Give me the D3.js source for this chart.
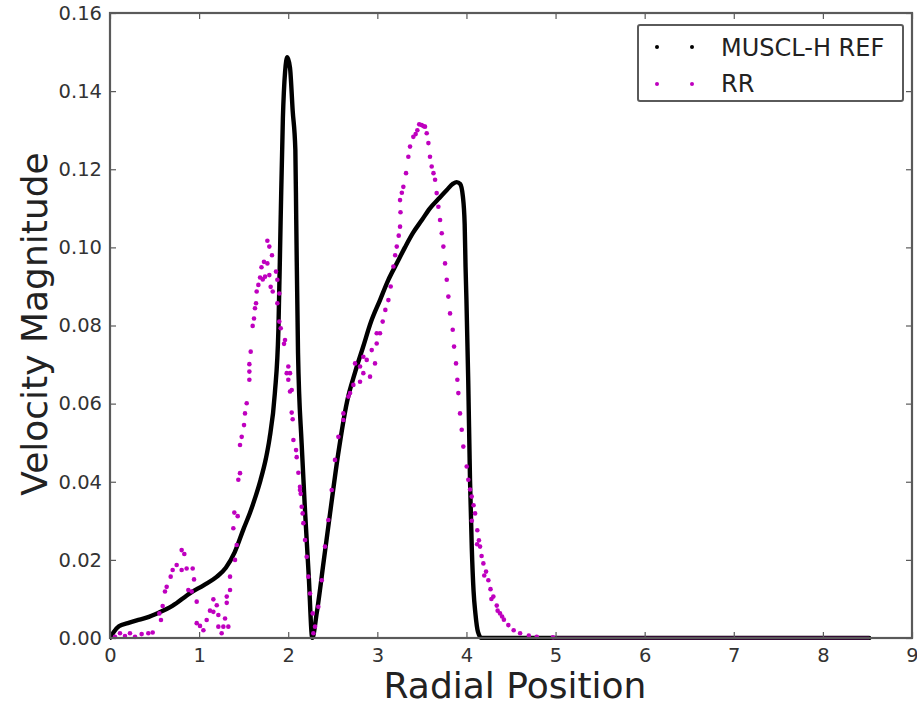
<!DOCTYPE html>
<html>
<head>
<meta charset="utf-8">
<script src="https://cdn.jsdelivr.net/npm/d3@7"></script>
<style>
  html, body { margin: 0; padding: 0; background: #fff; }
  svg { display: block; }
  text { font-family: "DejaVu Sans", sans-serif; }
</style>
</head>
<body>
<svg id="chart" width="917" height="706"></svg>
<script>
// ---------- data ----------
const xTicks = [0, 1, 2, 3, 4, 5, 6, 7, 8, 9];
const yTicks = [0.00, 0.02, 0.04, 0.06, 0.08, 0.10, 0.12, 0.14, 0.16];

// MUSCL-H REF (dense scatter, drawn as a thick trace)
const refX = [0, 0.04, 0.1, 0.2, 0.3, 0.41, 0.54, 0.7, 0.9, 1.05, 1.2, 1.3, 1.4, 1.5, 1.57, 1.63, 1.69, 1.75, 1.79, 1.85, 1.89, 1.915, 1.94, 1.965, 1.99, 2.02, 2.05, 2.08, 2.09, 2.11, 2.15, 2.19, 2.23, 2.27, 2.32, 2.4, 2.47, 2.56, 2.66, 2.75, 2.84, 2.93, 3.03, 3.12, 3.22, 3.31, 3.4, 3.5, 3.59, 3.69, 3.78, 3.85, 3.89, 3.93, 3.96, 3.98, 3.99, 4.0, 4.02, 4.04, 4.06, 4.08, 4.1, 4.13, 4.17, 8.52];
const refY = [0, 0.0015, 0.003, 0.0038, 0.0045, 0.0052, 0.0064, 0.0082, 0.0115, 0.0135, 0.0157, 0.018, 0.022, 0.028, 0.032, 0.036, 0.0405, 0.046, 0.051, 0.0627, 0.079, 0.107, 0.133, 0.145, 0.1487, 0.146, 0.135, 0.125, 0.107, 0.073, 0.05, 0.032, 0.016, 0.0, 0.0064, 0.02, 0.032, 0.047, 0.0605, 0.068, 0.0745, 0.081, 0.0865, 0.0915, 0.096, 0.1, 0.1037, 0.107, 0.110, 0.1125, 0.1147, 0.1163, 0.1167, 0.1162, 0.113, 0.106, 0.095, 0.0865, 0.066, 0.0405, 0.023, 0.012, 0.0064, 0.0015, 0.0, 0.0];

// RR scatter
const rrX = [0.056, 0.112, 0.168, 0.224, 0.281, 0.355, 0.43, 0.479, 0.554, 0.572, 0.591, 0.617, 0.636, 0.681, 0.703, 0.748, 0.804, 0.834, 0.804, 0.86, 0.879, 0.917, 0.928, 0.943, 0.973, 0.973, 1.01, 1.048, 1.085, 1.122, 1.16, 1.16, 1.198, 1.216, 1.216, 1.253, 1.272, 1.291, 1.31, 1.31, 1.328, 1.347, 1.347, 1.384, 1.403, 1.422, 1.395, 1.433, 1.44, 1.459, 1.459, 1.478, 1.504, 1.515, 1.534, 1.564, 1.564, 1.564, 1.579, 1.601, 1.616, 1.627, 1.639, 1.646, 1.665, 1.684, 1.70, 1.714, 1.728, 1.74, 1.766, 1.766, 1.788, 1.788, 1.803, 1.818, 1.826, 1.863, 1.878, 1.878, 1.90, 1.90, 1.916, 1.953, 1.964, 1.983, 2.001, 2.001, 2.02, 2.02, 2.039, 2.039, 2.05, 2.058, 2.088, 2.095, 2.114, 2.132, 2.132, 2.14, 2.151, 2.162, 2.17, 2.189, 2.207, 2.226, 2.245, 2.275, 2.282, 2.301, 2.338, 2.376, 2.413, 2.45, 2.488, 2.525, 2.563, 2.619, 2.619, 2.675, 2.694, 2.731, 2.75, 2.806, 2.806, 2.843, 2.843, 2.881, 2.918, 2.937, 2.974, 2.993, 2.993, 3.03, 3.06, 3.09, 3.124, 3.15, 3.18, 3.2, 3.218, 3.24, 3.255, 3.26, 3.255, 3.275, 3.292, 3.322, 3.348, 3.367, 3.404, 3.43, 3.449, 3.47, 3.498, 3.52, 3.535, 3.554, 3.573, 3.591, 3.61, 3.63, 3.648, 3.666, 3.685, 3.704, 3.723, 3.741, 3.76, 3.779, 3.797, 3.816, 3.846, 3.861, 3.883, 3.898, 3.909, 3.928, 3.947, 3.965, 4.003, 4.021, 4.04, 4.059, 4.06, 4.08, 4.097, 4.12, 4.122, 4.14, 4.153, 4.17, 4.19, 4.2, 4.22, 4.246, 4.27, 4.28, 4.302, 4.34, 4.35, 4.377, 4.4, 4.42, 4.47, 4.53, 4.602, 4.7, 4.789, 4.97];
const rrY = [0.0003, 0.0012, 0.0005, 0.0012, 0.0003, 0.001, 0.0012, 0.0014, 0.0063, 0.0046, 0.0082, 0.0119, 0.0131, 0.0157, 0.0174, 0.0187, 0.0225, 0.0215, 0.0174, 0.0178, 0.0123, 0.0119, 0.0178, 0.015, 0.0093, 0.0038, 0.0031, 0.002, 0.0046, 0.007, 0.0099, 0.0067, 0.0084, 0.0059, 0.0029, 0.0012, 0.0029, 0.005, 0.009, 0.0106, 0.0029, 0.0123, 0.0157, 0.0281, 0.02, 0.0238, 0.0321, 0.0312, 0.0405, 0.0422, 0.0494, 0.0515, 0.0545, 0.0575, 0.0601, 0.0661, 0.0682, 0.0701, 0.0733, 0.0799, 0.0818, 0.0844, 0.0857, 0.0887, 0.0904, 0.0923, 0.0949, 0.0918, 0.0963, 0.0925, 0.1017, 0.0959, 0.1002, 0.0929, 0.0899, 0.098, 0.0887, 0.0938, 0.0917, 0.0857, 0.0882, 0.081, 0.0793, 0.0753, 0.0763, 0.0678, 0.0695, 0.0661, 0.0678, 0.0631, 0.0635, 0.0577, 0.056, 0.0507, 0.0481, 0.0463, 0.0423, 0.0387, 0.0379, 0.0369, 0.0336, 0.0319, 0.0294, 0.0251, 0.0208, 0.0157, 0.0114, 0.0063, 0.0012, 0.0029, 0.008, 0.0148, 0.0234, 0.0302, 0.0379, 0.0456, 0.0515, 0.0575, 0.0558, 0.0618, 0.0627, 0.0648, 0.0703, 0.0656, 0.0695, 0.0678, 0.072, 0.0712, 0.0669, 0.0737, 0.0703, 0.0754, 0.078, 0.078, 0.081, 0.084, 0.0865, 0.09, 0.0951, 0.098, 0.1002, 0.103, 0.1053, 0.109, 0.1121, 0.114, 0.1155, 0.119, 0.1232, 0.1258, 0.1283, 0.129, 0.130, 0.1315, 0.1313, 0.131, 0.1309, 0.1292, 0.1267, 0.1232, 0.1207, 0.119, 0.1173, 0.1139, 0.1104, 0.107, 0.1036, 0.1002, 0.0959, 0.0917, 0.0874, 0.0831, 0.0789, 0.0746, 0.0703, 0.0661, 0.0627, 0.0575, 0.0533, 0.049, 0.0439, 0.0405, 0.038, 0.0362, 0.03, 0.034, 0.0319, 0.024, 0.0276, 0.025, 0.0234, 0.021, 0.0191, 0.016, 0.017, 0.0148, 0.0125, 0.01, 0.0106, 0.0083, 0.007, 0.0063, 0.0055, 0.0047, 0.0033, 0.002, 0.0012, 0.0006, 0.0003, 0.0002];
// RR flat tail along zero
const rrTailX = [4.97, 8.52];
const rrTailY = [0, 0];

// ---------- layout ----------
const svg = d3.select("#chart");
const PL = 110, PR = 912, PT = 13, PB = 638;
const x = d3.scaleLinear().domain([0, 9]).range([PL, PR]);
const y = d3.scaleLinear().domain([0, 0.16]).range([PB, PT]);
const MAG = "#bf00bf";
const AX = "#5a5a5a";

// data marks (clipped to plot area)
svg.append("clipPath").attr("id", "clip")
  .append("rect").attr("x", PL).attr("y", PT - 2).attr("width", PR - PL).attr("height", PB - PT + 4);
const g = svg.append("g").attr("clip-path", "url(#clip)");

const ref = refX.map((v, i) => [v, refY[i]]);
const line = d3.line().x(d => x(d[0])).y(d => y(d[1])).curve(d3.curveMonotoneX);
g.append("path").datum(ref).attr("d", line)
  .attr("fill", "none").attr("stroke", "#000").attr("stroke-width", 4.4)
  .attr("stroke-linejoin", "round").attr("stroke-linecap", "round");

const tail = rrTailX.map((v, i) => [v, rrTailY[i]]);
g.append("path").datum(tail).attr("d", d3.line().x(d => x(d[0])).y(d => y(d[1])))
  .attr("fill", "none").attr("stroke", MAG).attr("stroke-width", 2.5);

const rr = rrX.map((v, i) => [v, rrY[i]]);
g.selectAll("circle.rr").data(rr).enter().append("circle")
  .attr("class", "rr")
  .attr("cx", d => x(d[0])).attr("cy", d => y(d[1]))
  .attr("r", 2.3).attr("fill", MAG);

// axes: ticks inward on all four sides
const fmtY = d3.format(".2f");
const ax = svg.append("g");
const axB = d3.axisBottom(x).tickValues(xTicks).tickSize(-6).tickPadding(10).tickFormat(d3.format("d"));
const axL = d3.axisLeft(y).tickValues(yTicks).tickSize(-6).tickPadding(8).tickFormat(fmtY);
const axT = d3.axisTop(x).tickValues(xTicks).tickSize(-6).tickFormat("");
const axR = d3.axisRight(y).tickValues(yTicks).tickSize(-6).tickFormat("");

function styleAxis(sel) {
  sel.select(".domain").remove();
  sel.selectAll(".tick line").attr("stroke", AX).attr("stroke-width", 1.2);
  sel.selectAll(".tick text").attr("fill", "#333").style("font-size", "19.5px")
     .style("font-family", "'DejaVu Sans', sans-serif");
}
ax.append("g").attr("transform", `translate(0,${PB})`).call(axB).call(styleAxis);
ax.append("g").attr("transform", `translate(${PL},0)`).call(axL).call(styleAxis);
ax.append("g").attr("transform", `translate(0,${PT})`).call(axT).call(styleAxis);
ax.append("g").attr("transform", `translate(${PR},0)`).call(axR).call(styleAxis);

// frame
ax.append("rect").attr("x", PL).attr("y", PT).attr("width", PR - PL).attr("height", PB - PT)
  .attr("fill", "none").attr("stroke", AX).attr("stroke-width", 2.2);

// axis titles
svg.append("text").attr("x", 515).attr("y", 698)
  .attr("text-anchor", "middle").attr("fill", "#222")
  .style("font-size", "36px").text("Radial Position");
svg.append("text").attr("transform", `translate(47,324) rotate(-90)`)
  .attr("text-anchor", "middle").attr("fill", "#222")
  .style("font-size", "36px").text("Velocity Magnitude");

// legend
const lg = svg.append("g");
lg.append("rect").attr("x", 638).attr("y", 25).attr("width", 265).attr("height", 76)
  .attr("rx", 2).attr("fill", "#fff").attr("stroke", AX).attr("stroke-width", 2);
const legendItems = [
  { label: "MUSCL-H REF", color: "#000", yc: 47, ty: 56 },
  { label: "RR", color: MAG, yc: 84, ty: 92 }
];
legendItems.forEach(it => {
  [657, 692].forEach(cx => lg.append("circle").attr("cx", cx).attr("cy", it.yc).attr("r", 2).attr("fill", it.color));
  lg.append("text").attr("x", 721).attr("y", it.ty).attr("fill", "#222")
    .style("font-size", "24px").text(it.label);
});
</script>
</body>
</html>
